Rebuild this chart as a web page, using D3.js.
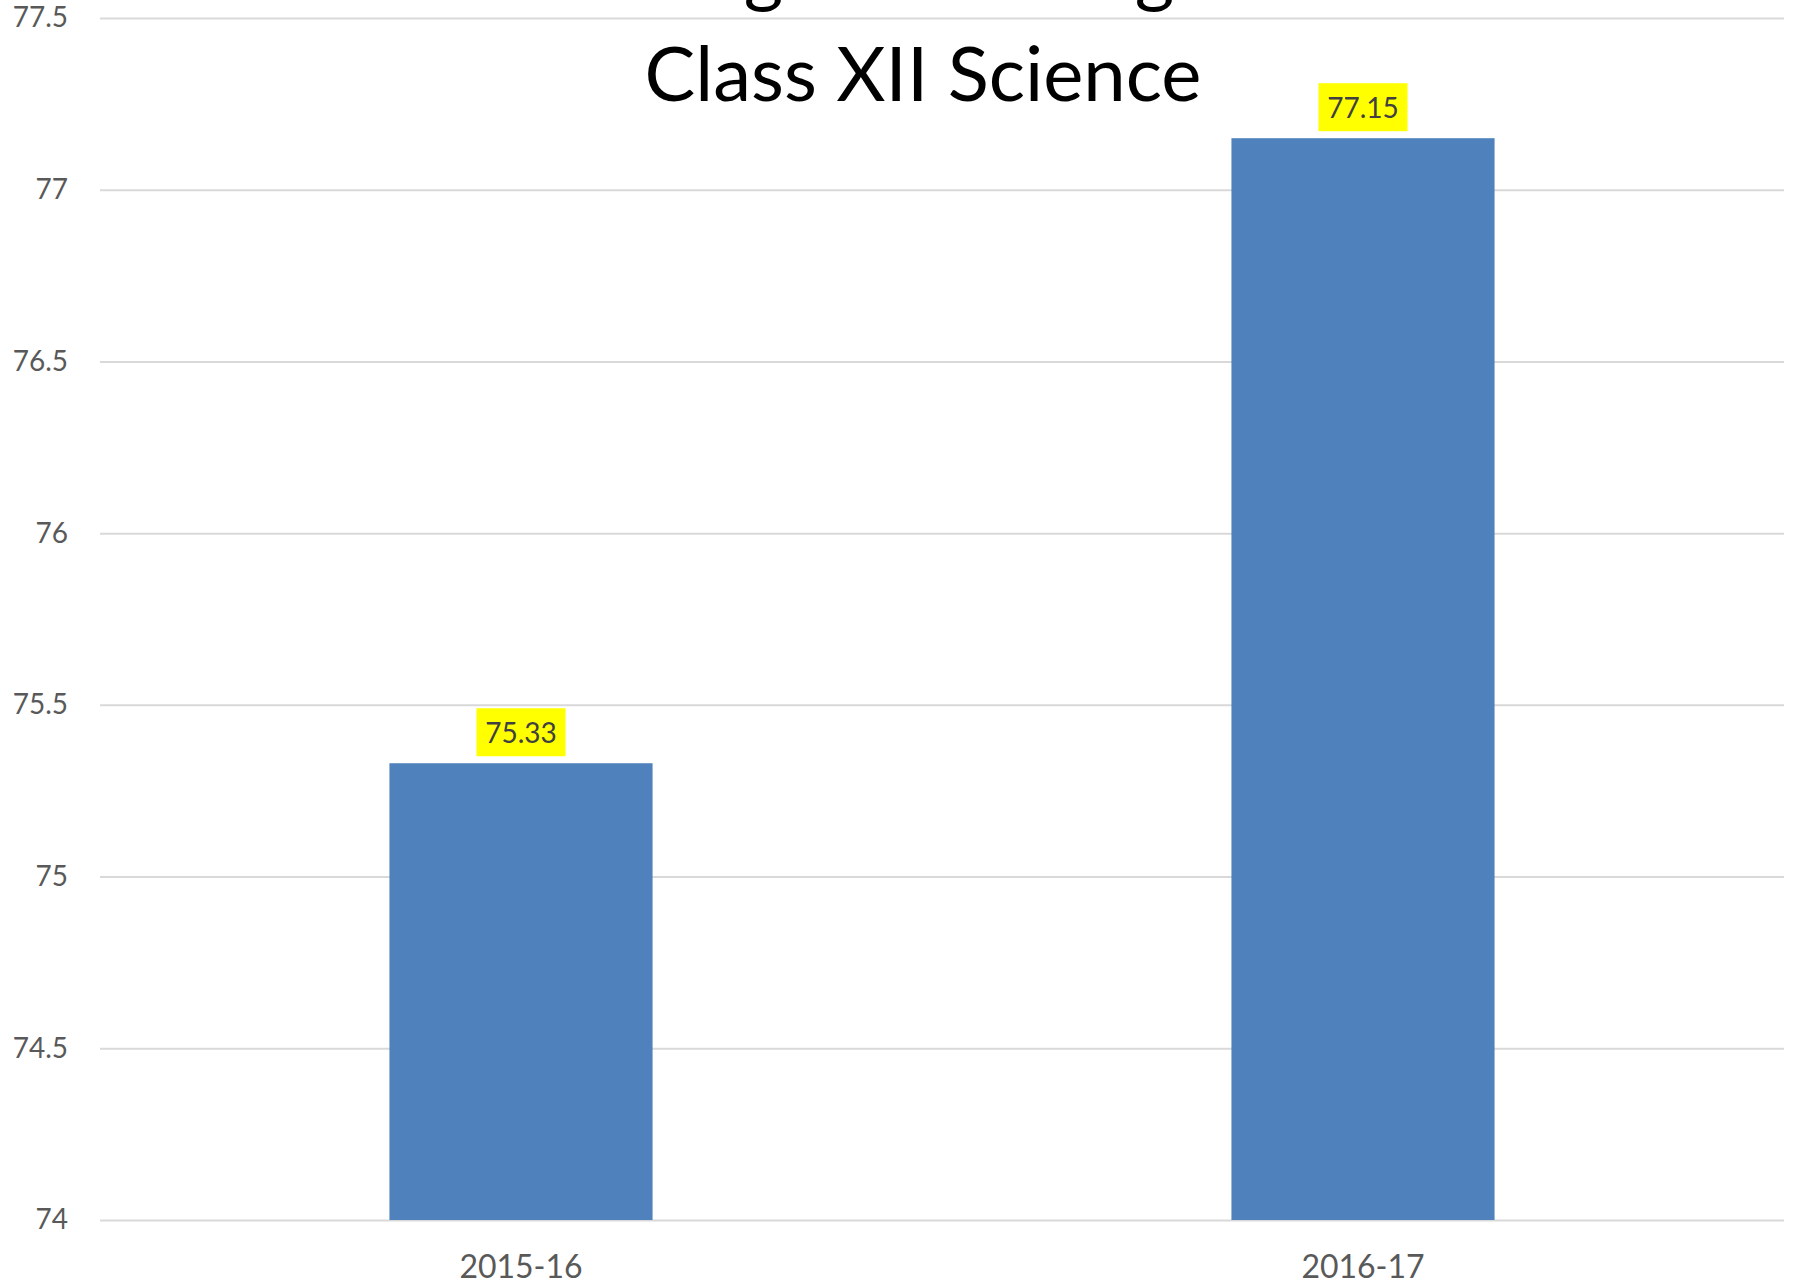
<!DOCTYPE html>
<html>
<head>
<meta charset="utf-8">
<script src="https://cdn.jsdelivr.net/npm/d3@7"></script>
<style>
  html, body { margin: 0; padding: 0; background: #fff; }
  svg { display: block; }
</style>
</head>
<body>
<div id="chart"></div>
<script>
// data
var categories = ["2015-16", "2016-17"];
var values = [75.33, 77.15];
var yTicks = [74, 74.5, 75, 75.5, 76, 76.5, 77, 77.5];
var titleLines = ["Average Percentage in", "Class XII Science"];

var width = 1795, height = 1285;
var margin = {top: 18, right: 11, bottom: 65, left: 100};
var plotW = width - margin.left - margin.right,
    plotH = height - margin.top - margin.bottom;

var svg = d3.select("#chart")
  .append("svg")
    .attr("width", width)
    .attr("height", height);

var g = svg.append("g")
    .attr("transform", "translate(" + margin.left + "," + margin.top + ")");

var x = d3.scaleBand()
  .domain(categories)
  .range([0, plotW])
  .paddingInner(0.6875)
  .paddingOuter(0.34375);

var y = d3.scaleLinear()
  .domain([74, 77.5])
  .range([plotH, 0]);

// Y axis with gridlines
var yAxis = g.append("g")
  .call(d3.axisLeft(y)
    .tickValues(yTicks)
    .tickSize(-plotW)
    .tickPadding(32)
    .tickFormat(function(d) { return d3.format("")(d); }));
yAxis.select(".domain").remove();
yAxis.selectAll("line")
  .attr("stroke", "#d9d9d9")
  .attr("stroke-width", 2);
yAxis.selectAll("text")
  .attr("fill", "#595959")
  .attr("font-family", "Lato, sans-serif")
  .attr("font-size", "28px");

// X axis
var xAxis = g.append("g")
  .attr("transform", "translate(0," + plotH + ")")
  .call(d3.axisBottom(x).tickSize(0).tickPadding(35));
xAxis.select(".domain").remove();
xAxis.selectAll("text")
  .attr("fill", "#595959")
  .attr("font-family", "Lato, sans-serif")
  .attr("font-size", "32px");

// bars
g.selectAll(".bar")
  .data(values)
  .enter()
  .append("rect")
    .attr("class", "bar")
    .attr("x", function(d, i) { return x(categories[i]); })
    .attr("y", function(d) { return y(d); })
    .attr("width", x.bandwidth())
    .attr("height", function(d) { return plotH - y(d); })
    .attr("fill", "#4f81bd");

// data labels on yellow boxes
var labels = g.selectAll(".label")
  .data(values)
  .enter()
  .append("g")
    .attr("class", "label")
    .attr("transform", function(d, i) {
      return "translate(" + (x(categories[i]) + x.bandwidth() / 2) + "," + (y(d) - 7) + ")";
    });

labels.append("rect")
  .attr("x", -44.5)
  .attr("y", -48)
  .attr("width", 89)
  .attr("height", 48)
  .attr("fill", "#ffff00");

labels.append("text")
  .attr("y", -13)
  .attr("text-anchor", "middle")
  .attr("font-family", "Lato, sans-serif")
  .attr("font-size", "28px")
  .attr("fill", "#404040")
  .text(function(d) { return d3.format(".2f")(d); });

// title (first line is cut off at the top of the picture)
svg.append("text")
  .attr("text-anchor", "middle")
  .attr("font-family", "Lato, sans-serif")
  .attr("font-size", "76px")
  .attr("fill", "#000")
  .selectAll("tspan")
  .data(titleLines)
  .enter()
  .append("tspan")
    .attr("x", 923)
    .attr("y", function(d, i) { return -2 + i * 103; })
    .text(function(d) { return d; });
</script>
</body>
</html>
